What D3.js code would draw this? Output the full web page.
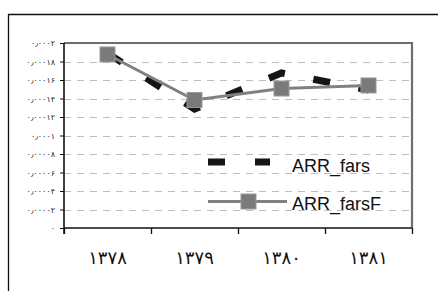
<!DOCTYPE html>
<html>
<head>
<meta charset="utf-8">
<script src="https://cdn.jsdelivr.net/npm/d3@7"></script>
<style>
  body { margin: 0; background: #fff; }
  svg { display: block; }
</style>
</head>
<body>
<div class="chart"></div>
<script>
  const years = ["۱۳۷۸", "۱۳۷۹", "۱۳۸۰", "۱۳۸۱"];
  const arrFars = [0.000189, 0.0001286, 0.0001676, 0.0001492];
  const arrFarsF = [0.0001876, 0.0001384, 0.0001508, 0.0001541];
  const yTicks = [0, 0.00002, 0.00004, 0.00006, 0.00008, 0.0001, 0.00012, 0.00014, 0.00016, 0.00018, 0.0002];

  const width = 438,
    height = 291,
    plot = { left: 64, right: 412, top: 43, bottom: 228 };

  const toFa = v => String(v).replace(".", "٫").replace(/\d/g, d => "۰۱۲۳۴۵۶۷۸۹"[d]);

  const svg = d3.select(".chart")
    .append("svg")
    .attr("width", width)
    .attr("height", height);

  // outer frame (only top and left are visible)
  svg.append("path")
    .attr("d", `M8.5,${height} V14.5 H${width}`)
    .attr("fill", "none")
    .attr("stroke", "#111")
    .attr("stroke-width", 1.3);

  const x = d3.scaleBand().domain(years).range([plot.left, plot.right]);
  const xEdge = d3.scaleLinear().domain([0, years.length]).range([plot.left, plot.right]);
  const y = d3.scaleLinear().domain([0, 0.0002]).range([plot.bottom, plot.top]);

  // gridlines
  svg.append("g")
    .selectAll("line")
    .data(yTicks.slice(1))
    .enter()
    .append("line")
    .attr("x1", plot.left)
    .attr("x2", plot.right)
    .attr("y1", d => Math.round(y(d)) + 0.5)
    .attr("y2", d => Math.round(y(d)) + 0.5)
    .attr("stroke", "#bdbdbd")
    .attr("stroke-dasharray", "7,6");

  // top and right border of plot area
  svg.append("path")
    .attr("d", `M${plot.left},${plot.top} H${plot.right} V${plot.bottom}`)
    .attr("fill", "none")
    .attr("stroke", "#6e6e6e")
    .attr("stroke-width", 2.2);

  // y axis
  const yAxis = svg.append("g")
    .attr("transform", `translate(${plot.left},0)`)
    .call(d3.axisLeft(y).tickValues(yTicks).tickSize(4).tickPadding(5).tickFormat(toFa));
  yAxis.select(".domain").attr("stroke", "#111").attr("stroke-width", 1.6)
    .attr("d", `M0,${plot.top}V${plot.bottom + 6}`);
  yAxis.selectAll(".tick line").attr("stroke", "#111");
  yAxis.selectAll("text")
    .attr("font-family", "DejaVu Sans")
    .attr("font-size", 8)
    .attr("fill", "#222");

  // x axis: tick marks on category boundaries, labels in the middle
  const xTicks = svg.append("g")
    .attr("transform", `translate(0,${plot.bottom})`)
    .call(d3.axisBottom(xEdge).ticks(years.length).tickSize(6).tickFormat(""));
  xTicks.select(".domain").attr("stroke", "#111").attr("stroke-width", 1.6)
    .attr("d", `M${plot.left},0H${plot.right}`);
  xTicks.selectAll(".tick line").attr("stroke", "#111").attr("stroke-width", 1.3);

  const xLabels = svg.append("g")
    .attr("transform", `translate(0,${plot.bottom + 23})`)
    .call(d3.axisBottom(x).tickSize(0).tickPadding(0));
  xLabels.select(".domain").remove();
  xLabels.selectAll("text")
    .attr("font-family", "DejaVu Sans")
    .attr("font-size", 18)
    .attr("letter-spacing", "4px")
    .attr("fill", "#111");

  const px = (d, i) => x(years[i]) + x.bandwidth() / 2;
  const line = d3.line().x(px).y(d => y(d));

  // ARR_fars: thick black long-dash line
  svg.append("path")
    .datum(arrFars)
    .attr("d", line)
    .attr("fill", "none")
    .attr("stroke", "#151515")
    .attr("stroke-width", 7)
    .attr("stroke-dasharray", "17,29");

  // ARR_farsF: gray line with square markers
  svg.append("path")
    .datum(arrFarsF)
    .attr("d", line)
    .attr("fill", "none")
    .attr("stroke", "#808080")
    .attr("stroke-width", 3);

  const sq = 15;
  svg.append("g")
    .selectAll("rect")
    .data(arrFarsF)
    .enter()
    .append("rect")
    .attr("x", (d, i) => px(d, i) - sq / 2)
    .attr("y", d => y(d) - sq / 2)
    .attr("width", sq)
    .attr("height", sq)
    .attr("fill", "#7a7a7a")
    .attr("stroke", "#9a9a9a")
    .attr("stroke-width", 1);

  // legend
  const legend = svg.append("g").attr("transform", "translate(208,0)");

  legend.append("line")
    .attr("x1", 0).attr("x2", 62)
    .attr("y1", 162).attr("y2", 162)
    .attr("stroke", "#151515")
    .attr("stroke-width", 7)
    .attr("stroke-dasharray", "17,30");

  legend.append("line")
    .attr("x1", 0).attr("x2", 79)
    .attr("y1", 201.5).attr("y2", 201.5)
    .attr("stroke", "#808080")
    .attr("stroke-width", 3);

  legend.append("rect")
    .attr("x", 40.5 - sq / 2).attr("y", 201.5 - sq / 2)
    .attr("width", sq).attr("height", sq)
    .attr("fill", "#7a7a7a")
    .attr("stroke", "#9a9a9a");

  legend.selectAll("text.legend-text")
    .data(["ARR_fars", "ARR_farsF"])
    .enter()
    .append("text")
    .attr("class", "legend-text")
    .attr("x", 84)
    .attr("y", (d, i) => 171.5 + i * 38)
    .attr("font-family", "Liberation Sans")
    .attr("font-size", 18)
    .attr("fill", "#111")
    .text(d => d);
</script>
</body>
</html>
